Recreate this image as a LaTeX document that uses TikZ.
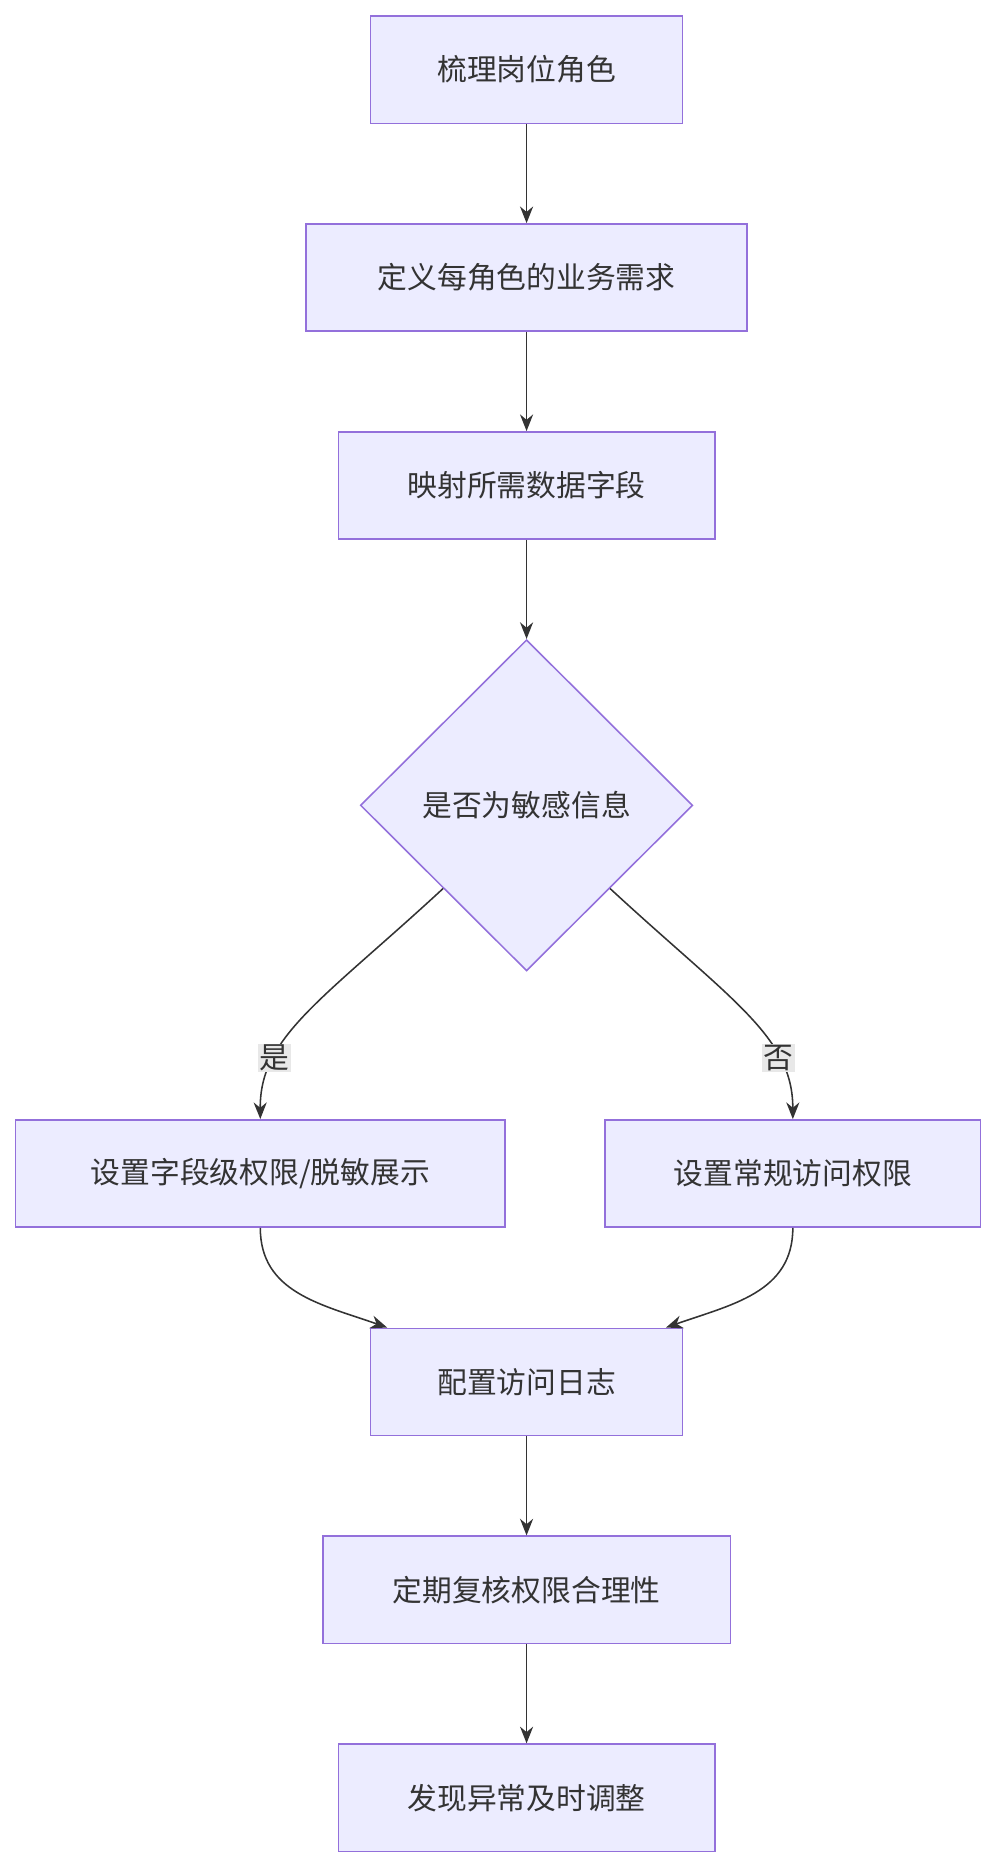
\documentclass[tikz,border=0pt]{standalone}
\usepackage{fontspec}
\setmainfont{Noto Sans CJK SC}
\usetikzlibrary{shapes.geometric,arrows.meta,calc}
\definecolor{boxfill}{HTML}{ECECFF}
\definecolor{boxline}{HTML}{9370DB}
\definecolor{edgecol}{HTML}{333333}
\definecolor{lblfill}{HTML}{E8E8E8}
\tikzset{
    stage/.style={draw=boxline,fill=boxfill,line width=1.3pt,rectangle,
        minimum height=90pt,inner sep=0pt,font=\fontsize{25}{30}\selectfont,text=edgecol},
    check/.style={draw=boxline,fill=boxfill,line width=1.3pt,diamond,
        minimum width=279pt,minimum height=278pt,inner sep=0pt,
        font=\fontsize{25}{30}\selectfont,text=edgecol},
    flow/.style={draw=edgecol,line width=1.3pt,-{Stealth[length=14pt,width=11pt]}},
    lbl/.style={fill=lblfill,inner sep=1pt,font=\fontsize{25}{30}\selectfont,text=edgecol}
}
\begin{document}
\begin{tikzpicture}[x=1pt,y=-1pt]
    \useasboundingbox (0,0) rectangle (836,1568);
    % main chain
    \node[stage,minimum width=262pt] (roles) at (442,58.5) {梳理岗位角色};
    \node[stage,minimum width=370pt] (needs) at (442,233) {定义每角色的业务需求};
    \node[stage,minimum width=316pt] (fields) at (442,407.5) {映射所需数据字段};
    \node[check] (sensitive) at (442,676) {是否为敏感信息};
    \node[stage,minimum width=411pt] (masked) at (218.5,985) {设置字段级权限/脱敏展示};
    \node[stage,minimum width=315pt] (normal) at (665.5,985) {设置常规访问权限};
    \node[stage,minimum width=262pt] (logging) at (442,1160) {配置访问日志};
    \node[stage,minimum width=342pt] (review) at (442,1334.5) {定期复核权限合理性};
    \node[stage,minimum width=316pt] (adjust) at (442,1509) {发现异常及时调整};

    \draw[flow] (roles) -- (needs);
    \draw[flow] (needs) -- (fields);
    \draw[flow] (fields) -- (sensitive);
    % branches
    \draw[flow] (sensitive.south west) .. controls (270,840) and (218,870) .. (masked.north)
        node[lbl,pos=0.72] (yes) {是};
    \draw[flow] (sensitive.south east) .. controls (614,840) and (665.5,870) .. (normal.north)
        node[lbl,pos=0.72] (no) {否};
    \draw[flow] (masked.south) .. controls (218.5,1085) and (270,1095) .. ($(logging.north)+(-117,0)$);
    \draw[flow] (normal.south) .. controls (665.5,1085) and (614,1095) .. ($(logging.north)+(117,0)$);
    \draw[flow] (logging) -- (review);
    \draw[flow] (review) -- (adjust);
\end{tikzpicture}
\end{document}
